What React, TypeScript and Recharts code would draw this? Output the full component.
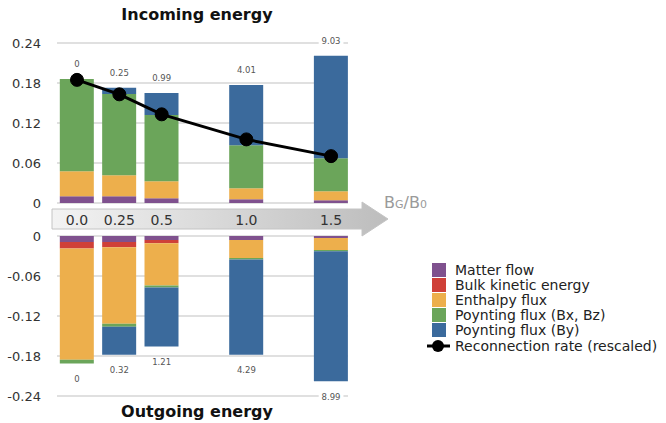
import { ComposedChart, Bar, Line, XAxis, YAxis, CartesianGrid, LabelList } from "recharts";

const bgValues = [0, 0.25, 0.5, 1.0, 1.5];
const bgLabels = ["0.0", "0.25", "0.5", "1.0", "1.5"];

// incoming energy (per component)
const inMatter = [0.01, 0.01, 0.007, 0.0055, 0.004];
const inKinetic = [0, 0, 0, 0, 0];
const inEnthalpy = [0.0377, 0.0317, 0.0256, 0.0165, 0.0136];
const inPoyntingXZ = [0.1383, 0.1219, 0.0994, 0.0648, 0.0497];
const inPoyntingY = [0, 0.0091, 0.033, 0.0902, 0.1537];
const inLabels = ["0", "0.25", "0.99", "4.01", "9.03"];
const reconnRate = [0.1847, 0.163, 0.133, 0.0954, 0.0703];

// outgoing energy
const outMatter = [-0.009, -0.009, -0.006, -0.006, -0.003];
const outKinetic = [-0.0096, -0.008, -0.005, 0, 0];
const outEnthalpy = [-0.1671, -0.1145, -0.0633, -0.0271, -0.018];
const outPoyntingXZ = [-0.0055, -0.0045, -0.003, -0.002, -0.002];
const outPoyntingY = [0, -0.042, -0.0883, -0.1429, -0.195];
const outLabels = ["0", "0.32", "1.21", "4.29", "8.99"];

const topTicks = [0, 0.06, 0.12, 0.18, 0.24];
const bottomTicks = [-0.24, -0.18, -0.12, -0.06, 0];

const COLORS = {
  matter: "#7f518e",
  kinetic: "#cf4038",
  enthalpy: "#edaf4c",
  pxz: "#6ba55a",
  py: "#3b6a9c",
};

const legendItems = [
  { name: "Matter flow", color: COLORS.matter },
  { name: "Bulk kinetic energy", color: COLORS.kinetic },
  { name: "Enthalpy flux", color: COLORS.enthalpy },
  { name: "Poynting flux (Bx, Bz)", color: COLORS.pxz },
  { name: "Poynting flux (By)", color: COLORS.py },
];

const FONT = "'DejaVu Sans', 'Noto Sans', sans-serif";

const inData = bgValues.map((bg, i) => ({
  bg,
  matter: inMatter[i],
  kinetic: inKinetic[i],
  enthalpy: inEnthalpy[i],
  pxz: inPoyntingXZ[i],
  py: inPoyntingY[i],
  rate: reconnRate[i],
  total: inMatter[i] + inKinetic[i] + inEnthalpy[i] + inPoyntingXZ[i] + inPoyntingY[i],
  label: inLabels[i],
}));

const outData = bgValues.map((bg, i) => ({
  bg,
  matter: outMatter[i],
  kinetic: outKinetic[i],
  enthalpy: outEnthalpy[i],
  pxz: outPoyntingXZ[i],
  py: outPoyntingY[i],
  total: outMatter[i] + outKinetic[i] + outEnthalpy[i] + outPoyntingXZ[i] + outPoyntingY[i],
  label: outLabels[i],
}));

const fmtTick = (v: number) => (v === 0 ? "0" : String(v));

function makeValueLabel(dy: number) {
  return (props: any) => {
    const { x, y, value } = props;
    const cy = y + dy;
    const w = String(value).length * 5.2 + 4;
    return (
      <g>
        <rect x={x - w / 2} y={cy - 4} width={w} height={8} fill="#fff" />
        <text x={x} y={cy} dy={3.2} textAnchor="middle" fontSize={8.5} fill="#555" fontFamily={FONT}>
          {value}
        </text>
      </g>
    );
  };
}

function Stacks() {
  return [
    <Bar key="m" dataKey="matter" stackId="a" fill={COLORS.matter} barSize={34} isAnimationActive={false} />,
    <Bar key="k" dataKey="kinetic" stackId="a" fill={COLORS.kinetic} barSize={34} isAnimationActive={false} />,
    <Bar key="e" dataKey="enthalpy" stackId="a" fill={COLORS.enthalpy} barSize={34} isAnimationActive={false} />,
    <Bar key="x" dataKey="pxz" stackId="a" fill={COLORS.pxz} barSize={34} isAnimationActive={false} />,
    <Bar key="y" dataKey="py" stackId="a" fill={COLORS.py} barSize={34} isAnimationActive={false} />,
  ];
}

const axisTick = { fontSize: 13, fill: "#333", fontFamily: FONT };

export default function App() {
  return (
    <div style={{ position: "absolute", left: 0, top: 0, width: 666, height: 423, background: "#fff", fontFamily: FONT }}>
      {/* gray arrow for B_G/B_0 */}
      <svg width={666} height={423} style={{ position: "absolute", left: 0, top: 0 }}>
        <defs>
          <linearGradient id="arrowGrad" x1="52" x2="388" y1="0" y2="0" gradientUnits="userSpaceOnUse">
            <stop offset="0" stopColor="#f3f3f3" />
            <stop offset="1" stopColor="#bdbdbd" />
          </linearGradient>
        </defs>
        <path
          d="M52,209 L362,209 L362,202 L388,219 L362,236 L362,229 L52,229 Z"
          fill="url(#arrowGrad)"
          stroke="#c4c4c4"
          strokeWidth={1}
        />
      </svg>

      <div style={{ position: "absolute", left: 0, top: 5, width: 394, textAlign: "center", fontSize: 16, fontWeight: 700, color: "#111" }}>
        Incoming energy
      </div>
      <div style={{ position: "absolute", left: 0, top: 402, width: 394, textAlign: "center", fontSize: 16, fontWeight: 700, color: "#111" }}>
        Outgoing energy
      </div>

      <div style={{ position: "absolute", left: 0, top: 0 }}>
        <ComposedChart width={400} height={215} data={inData} margin={{ top: 43, right: 52, bottom: 12, left: 0 }}>
          <CartesianGrid vertical={false} stroke="#d6d6d6" strokeWidth={1.5} />
          <XAxis type="number" dataKey="bg" domain={[-0.118, 1.6]} hide />
          <YAxis
            domain={[0, 0.24]}
            ticks={topTicks}
            tickFormatter={fmtTick}
            width={57}
            axisLine={false}
            tickLine={false}
            tickSize={6}
            tickMargin={10}
            tick={axisTick}
          />
          {Stacks()}
          <Line dataKey="total" stroke="none" dot={false} activeDot={false} legendType="none" isAnimationActive={false}>
            <LabelList dataKey="label" content={makeValueLabel(-15)} />
          </Line>
          <Line
            dataKey="rate"
            stroke="#000"
            strokeWidth={3}
            dot={{ r: 6.5, fill: "#000", stroke: "#000", strokeWidth: 1 }}
            activeDot={false}
            isAnimationActive={false}
          />
        </ComposedChart>
      </div>

      <div style={{ position: "absolute", left: 0, top: 200 }}>
        <ComposedChart width={400} height={215} data={outData} margin={{ top: 0, right: 52, bottom: 19, left: 0 }}>
          <CartesianGrid vertical={false} stroke="#d6d6d6" strokeWidth={1.5} />
          <XAxis
            type="number"
            dataKey="bg"
            domain={[-0.118, 1.6]}
            orientation="top"
            height={36}
            ticks={bgValues}
            tickFormatter={(v: number) => bgLabels[bgValues.indexOf(v)] ?? ""}
            axisLine={false}
            tickLine={false}
            tickSize={6}
            tickMargin={5}
            interval={0}
            tick={{ fontSize: 14, fill: "#333", fontFamily: FONT }}
          />
          <YAxis
            domain={[-0.24, 0]}
            ticks={bottomTicks}
            tickFormatter={fmtTick}
            width={57}
            axisLine={false}
            tickLine={false}
            tickSize={6}
            tickMargin={10}
            tick={axisTick}
          />
          {Stacks()}
          <Line dataKey="total" stroke="none" dot={false} activeDot={false} legendType="none" isAnimationActive={false}>
            <LabelList dataKey="label" content={makeValueLabel(15)} />
          </Line>
        </ComposedChart>
      </div>

      <div style={{ position: "absolute", left: 384, top: 193, fontSize: 16, color: "#9a9a9a" }}>
        B<span style={{ fontSize: 11 }}>G</span>/B<span style={{ fontSize: 11 }}>0</span>
      </div>

      <div style={{ position: "absolute", left: 426, top: 262.5, fontSize: 14, color: "#222" }}>
        {legendItems.map((it) => (
          <div key={it.name} style={{ display: "flex", alignItems: "center", height: 15, whiteSpace: "nowrap" }}>
            <span style={{ display: "inline-block", width: 14, height: 14, background: it.color, marginLeft: 6, marginRight: 9 }} />
            <span style={{ lineHeight: "14px" }}>{it.name}</span>
          </div>
        ))}
        <div style={{ display: "flex", alignItems: "center", height: 15, marginTop: 0.5, whiteSpace: "nowrap" }}>
          <svg width={25} height={14} style={{ marginRight: 4 }}>
            <line x1={1} y1={7} x2={24} y2={7} stroke="#000" strokeWidth={3} />
            <circle cx={12} cy={7} r={6} fill="#000" />
          </svg>
          <span style={{ lineHeight: "14px" }}>Reconnection rate (rescaled)</span>
        </div>
      </div>
    </div>
  );
}
